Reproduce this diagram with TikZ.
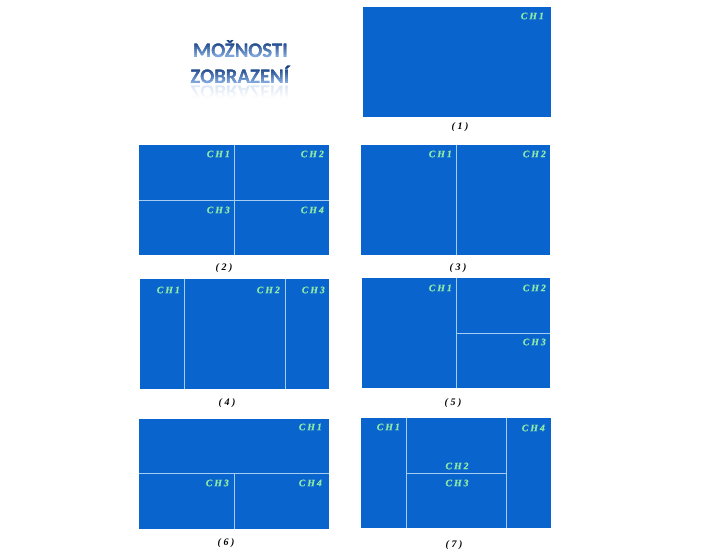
\documentclass[tikz,border=0pt]{standalone}
\usepackage{fontspec}
\newfontfamily\lblfont{Liberation Serif}[LetterSpace=20,FakeBold=0.6]
\newfontfamily\capfont{Liberation Serif}
\newfontfamily\ttlfont{Carlito}
\definecolor{panelblue}{RGB}{10,100,206}
\definecolor{divline}{RGB}{165,205,242}
\definecolor{chgreen}{RGB}{140,234,166}
\definecolor{ttltop}{RGB}{24,64,130}
\definecolor{ttlbot}{RGB}{125,165,220}
\newcommand{\capt}[1]{(\hspace{2.5pt}#1\hspace{2.5pt})}
\begin{document}
\begin{tikzpicture}[x=1pt,y=-1pt,
  panel/.style={fill=panelblue},
  divider/.style={draw=divline, line width=0.9pt},
  chlabel/.style={text=chgreen, font=\lblfont\bfseries\itshape\fontsize{9.8}{10}\selectfont, inner sep=0pt, anchor=east},
  chmid/.style={text=chgreen, font=\lblfont\bfseries\itshape\fontsize{9.8}{10}\selectfont, inner sep=0pt},
  caption/.style={text=black, font=\capfont\bfseries\itshape\fontsize{10}{11}\selectfont, inner sep=0pt},
  ttl/.style={font=\ttlfont\bfseries\fontsize{20.7}{22}\selectfont, inner sep=0pt, anchor=base}]
\useasboundingbox (0,0) rectangle (722,555);
\fill[white] (0,0) rectangle (722,555);

% title, vertical gradient built from clipped bands
\foreach \i in {0,...,13} {
  \pgfmathsetmacro\yy{36+\i*2}
  \pgfmathsetmacro\p{max(0,min(100,(\yy+1-43)/14*100))}
  \begin{scope}
    \clip (150,\yy-0.2) rectangle (330,\yy+2.2);
    \node[ttl, text=ttlbot!\p!ttltop] (ta\i) at (240.5,57) {MOŽNOSTI};
  \end{scope}
  \pgfmathsetmacro\yb{62+\i*2}
  \pgfmathsetmacro\q{max(0,min(100,(\yb+1-69)/14*100))}
  \begin{scope}
    \clip (150,\yb-0.2) rectangle (330,\yb+2.2);
    \node[ttl, text=ttlbot!\q!ttltop] (tb\i) at (240,83) {ZOBRAZENÍ};
  \end{scope}
}
% faint reflection
\foreach \j in {0,...,5} {
  \pgfmathsetmacro\yr{85+\j*2}
  \pgfmathsetmacro\op{0.15*(1-\j/6)}
  \begin{scope}
    \clip (150,\yr-0.2) rectangle (330,\yr+2.2);
    \begin{scope}[shift={(240,85.5)}, yscale=-1]
      \node[ttl, transform shape, text=ttlbot, opacity=\op] (tr\j) at (0,0) {ZOBRAZENÍ};
    \end{scope}
  \end{scope}
}

% panel 1
\fill[panel] (363,7) rectangle (551,117);
\node[chlabel] (p1a) at (544,16) {CH1};
\node[caption] (c1) at (460,127) {\capt{1}};

% panel 2
\fill[panel] (139,145) rectangle (329,255);
\draw[divider] (234,145) -- (234,255);
\draw[divider] (139,200) -- (329,200);
\node[chlabel] (p2a) at (230,154) {CH1};
\node[chlabel] (p2b) at (324,154) {CH2};
\node[chlabel] (p2c) at (230,210) {CH3};
\node[chlabel] (p2d) at (324,210) {CH4};
\node[caption] (c2) at (224,268) {\capt{2}};

% panel 3
\fill[panel] (361,145) rectangle (550,255);
\draw[divider] (456,145) -- (456,255);
\node[chlabel] (p3a) at (452,154) {CH1};
\node[chlabel] (p3b) at (546,154) {CH2};
\node[caption] (c3) at (458,268) {\capt{3}};

% panel 4
\fill[panel] (140,279) rectangle (329,389);
\draw[divider] (184,279) -- (184,389);
\draw[divider] (285,279) -- (285,389);
\node[chlabel] (p4a) at (180,290) {CH1};
\node[chlabel] (p4b) at (280,290) {CH2};
\node[chlabel] (p4c) at (325,290) {CH3};
\node[caption] (c4) at (227,403) {\capt{4}};

% panel 5
\fill[panel] (362,278) rectangle (550,388);
\draw[divider] (456,278) -- (456,388);
\draw[divider] (456,333) -- (550,333);
\node[chlabel] (p5a) at (452,288) {CH1};
\node[chlabel] (p5b) at (546,288) {CH2};
\node[chlabel] (p5c) at (546,342) {CH3};
\node[caption] (c5) at (453,403) {\capt{5}};

% panel 6
\fill[panel] (139,419) rectangle (329,529);
\draw[divider] (139,473) -- (329,473);
\draw[divider] (234,473) -- (234,529);
\node[chlabel] (p6a) at (322,427) {CH1};
\node[chlabel] (p6b) at (229,483) {CH3};
\node[chlabel] (p6c) at (322,483) {CH4};
\node[caption] (c6) at (226,543) {\capt{6}};

% panel 7
\fill[panel] (361,418) rectangle (551,528);
\draw[divider] (406,418) -- (406,528);
\draw[divider] (506,418) -- (506,528);
\draw[divider] (406,473) -- (506,473);
\node[chlabel] (p7a) at (400,427) {CH1};
\node[chlabel] (p7d) at (545,428) {CH4};
\node[chmid] (p7b) at (457,466) {CH2};
\node[chmid] (p7c) at (457,483) {CH3};
\node[caption] (c7) at (454,545) {\capt{7}};
\end{tikzpicture}
\end{document}
